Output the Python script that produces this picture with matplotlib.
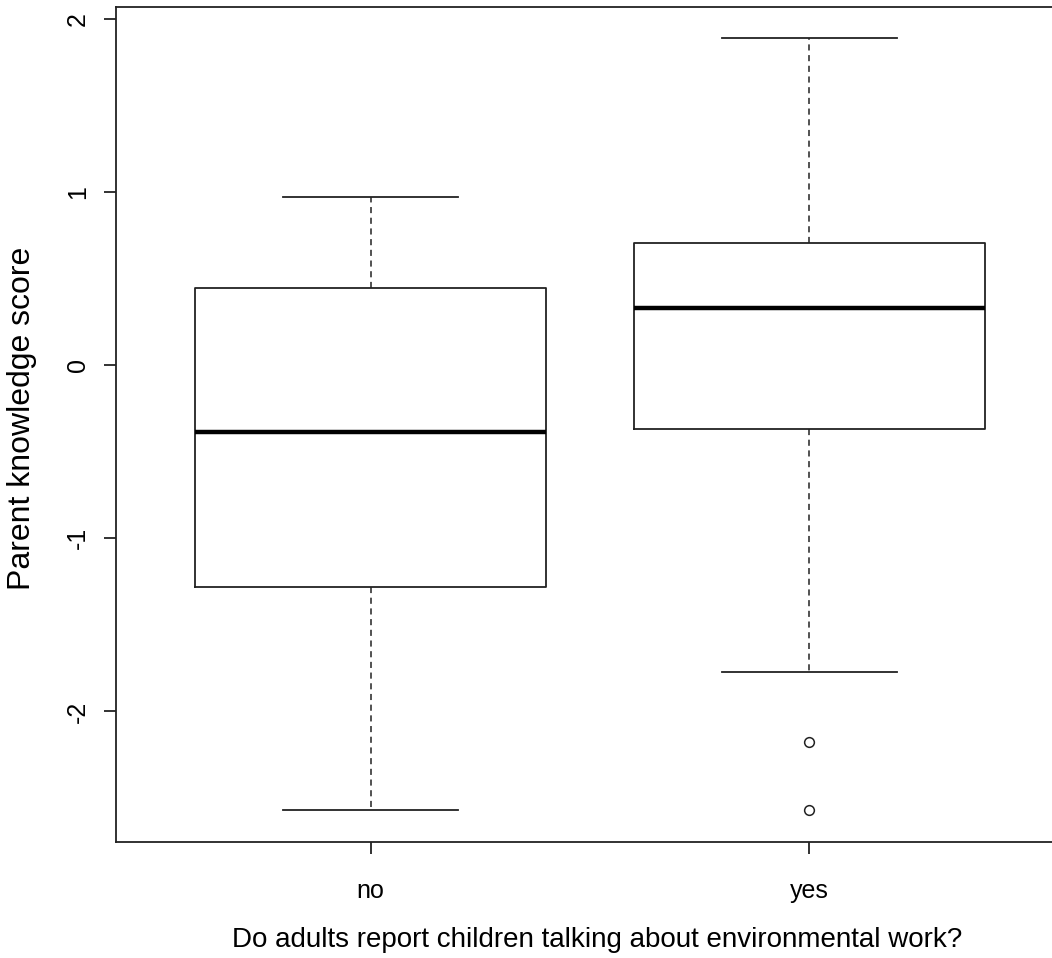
import matplotlib
matplotlib.use("Agg")
import matplotlib.pyplot as plt

categories = ["no", "yes"]
whisker_low = [-2.568, -1.770]
q1 = [-1.284, -0.370]
median = [-0.387, 0.330]
q3 = [0.445, 0.706]
whisker_high = [0.972, 1.891]
outliers = [[], [-2.175, -2.568]]
yticks = [-2, -1, 0, 1, 2]

plt.rcParams['font.family'] = ['Liberation Sans', 'DejaVu Sans']

fig = plt.figure(figsize=(10.52, 9.58), dpi=100)
ax = fig.add_axes([116/1052, (958-842)/958, (1064-116)/1052, (842-7)/958])

stats = []
for i, c in enumerate(categories):
    stats.append(dict(label=c, whislo=whisker_low[i], q1=q1[i], med=median[i],
                      q3=q3[i], whishi=whisker_high[i], fliers=outliers[i]))

lc = '#222222'
ax.bxp(stats, positions=[1, 2], widths=0.8, showfliers=True,
       boxprops=dict(color=lc, linewidth=1.3),
       whiskerprops=dict(color=lc, linewidth=1.1, linestyle=(0, (4, 3))),
       capprops=dict(color=lc, linewidth=1.3),
       medianprops=dict(color='black', linewidth=3.2),
       flierprops=dict(marker='o', markersize=7, markerfacecolor='none',
                       markeredgecolor=lc, markeredgewidth=1.1, linestyle='none'),
       capwidths=0.4)

ax.set_xlim(0.42, 2.58)
ax.set_ylim(-2.7545, 2.0698)
ax.set_yticks(yticks)
ax.set_yticklabels([str(t) for t in yticks], rotation=90, va='center', fontsize=18)
ax.set_xticks([1, 2])
ax.set_xticklabels(categories, fontsize=18)
for s in ax.spines.values():
    s.set_color(lc)
    s.set_linewidth(1.3)
ax.tick_params(axis='both', length=8.6, width=1.3, color=lc)
ax.tick_params(axis='x', pad=18)
ax.tick_params(axis='y', pad=10)
ax.set_ylabel("Parent knowledge score", fontsize=23, va='center')
ax.yaxis.set_label_coords((22 - 116) / 948, (842 - 418) / 835)
ax.set_xlabel("Do adults report children talking about environmental work?", fontsize=20, va='center')
ax.xaxis.set_label_coords((597 - 116) / 948, (842 - 940) / 835)

fig.savefig("out.png", dpi=100, facecolor='white')
